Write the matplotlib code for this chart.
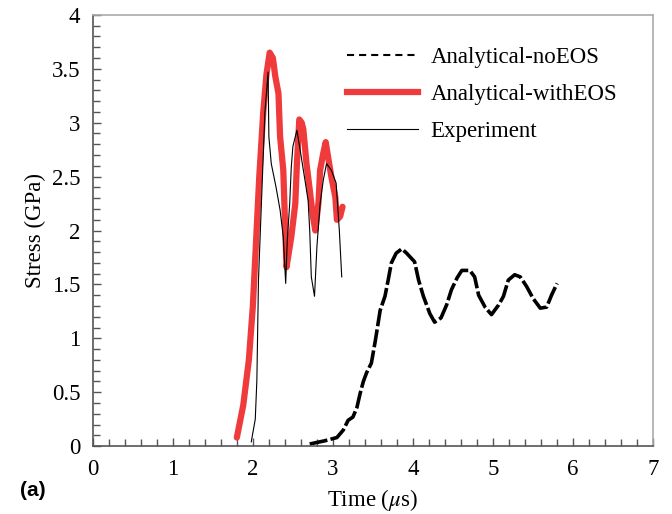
import matplotlib
matplotlib.use("Agg")
import matplotlib.pyplot as plt
from matplotlib.lines import Line2D
from matplotlib.ticker import MultipleLocator, FuncFormatter

# Analytical-noEOS (dashed)
t_noeos = [2.71, 2.90, 3.05, 3.13, 3.19, 3.25, 3.30, 3.34, 3.38, 3.42, 3.48, 3.53,
           3.59, 3.65, 3.69, 3.73, 3.79, 3.86, 3.92, 4.02, 4.07, 4.13, 4.21, 4.27,
           4.35, 4.42, 4.48, 4.55, 4.61, 4.71, 4.77, 4.82, 4.90, 4.98, 5.07, 5.13,
           5.19, 5.27, 5.34, 5.42, 5.50, 5.59, 5.67, 5.73, 5.80]
s_noeos = [0.02, 0.05, 0.08, 0.15, 0.24, 0.27, 0.36, 0.49, 0.60, 0.68, 0.77, 0.98,
           1.26, 1.39, 1.54, 1.70, 1.79, 1.83, 1.79, 1.71, 1.54, 1.39, 1.23, 1.15,
           1.19, 1.31, 1.45, 1.56, 1.63, 1.63, 1.57, 1.40, 1.29, 1.22, 1.31, 1.39,
           1.54, 1.59, 1.57, 1.48, 1.37, 1.28, 1.29, 1.40, 1.51]

# Analytical-withEOS (thick red)
t_eos = [1.80, 1.88, 1.95, 2.00, 2.03, 2.08, 2.13, 2.17, 2.21, 2.25, 2.28, 2.32,
         2.34, 2.38, 2.42, 2.48, 2.53, 2.55, 2.58, 2.61, 2.63, 2.67, 2.71, 2.75,
         2.78, 2.82, 2.84, 2.88, 2.91, 2.94, 2.98, 3.03, 3.05, 3.09, 3.12]
s_eos = [0.08, 0.38, 0.80, 1.30, 1.75, 2.50, 3.10, 3.45, 3.65, 3.60, 3.43, 3.27,
         2.87, 2.56, 1.66, 1.94, 2.25, 2.62, 3.03, 3.00, 2.94, 2.62, 2.38, 2.13,
         2.00, 2.26, 2.56, 2.72, 2.82, 2.68, 2.50, 2.31, 2.10, 2.13, 2.22]

# Experiment (thin black)
t_exp = [1.98, 2.03, 2.05, 2.07, 2.15, 2.19, 2.20, 2.23, 2.29, 2.34, 2.38, 2.41,
         2.43, 2.46, 2.48, 2.50, 2.55, 2.59, 2.65, 2.69, 2.71, 2.73, 2.77, 2.80,
         2.84, 2.88, 2.92, 2.98, 3.04, 3.08, 3.11]
s_exp = [0.04, 0.25, 0.61, 1.54, 3.09, 3.47, 2.87, 2.62, 2.40, 2.19, 1.94, 1.51,
         1.91, 2.25, 2.59, 2.78, 2.93, 2.75, 2.47, 2.28, 2.00, 1.57, 1.39, 1.85,
         2.25, 2.47, 2.62, 2.56, 2.44, 2.00, 1.57]

plt.rcParams["font.family"] = ["Liberation Serif", "DejaVu Serif"]
plt.rcParams["mathtext.fontset"] = "stix"

fig = plt.figure(figsize=(6.72, 5.14), dpi=100)
ax = fig.add_axes([0.138, 0.132, 0.834, 0.839])

red = "#ef3b3b"
ax.plot(t_noeos, s_noeos, color="black", lw=2.6, linestyle=(0, (5, 0.9)))
ax.plot(t_eos, s_eos, color=red, lw=4.5, solid_joinstyle="round",
        solid_capstyle="round")
ax.plot(t_exp, s_exp, color="black", lw=0.8)

ax.set_xlim(0, 7)
ax.set_ylim(0, 4)
ax.xaxis.set_major_locator(MultipleLocator(1))
ax.xaxis.set_minor_locator(MultipleLocator(0.2))
ax.yaxis.set_major_locator(MultipleLocator(0.5))
ax.yaxis.set_minor_locator(MultipleLocator(0.1))
ax.yaxis.set_major_formatter(FuncFormatter(lambda v, p: f"{v:g}"))
ax.tick_params(which="both", direction="in", top=False, right=False,
               labelsize=16.5, color="#555555", width=1.0)
ax.tick_params(which="major", length=6, pad=9)
ax.tick_params(which="minor", length=5)

for side in ["left", "bottom"]:
    ax.spines[side].set_color("#555555")
    ax.spines[side].set_linewidth(1.2)
for side in ["top", "right"]:
    ax.spines[side].set_color("#aaaaaa")
    ax.spines[side].set_linewidth(1.2)

ax.set_xlabel(r"Time ($\mu$s)", fontsize=16.5, labelpad=5)
ax.set_ylabel("Stress (GPa)", fontsize=16.5, labelpad=4)

handles = [
    Line2D([], [], color="black", lw=1.5, linestyle=(0, (3.4, 2.4))),
    Line2D([], [], color=red, lw=4.5),
    Line2D([], [], color="black", lw=0.8),
]
labels = ["Analytical-noEOS", "Analytical-withEOS", "Experiment"]
ax.legend(handles, labels, loc="upper right", bbox_to_anchor=(0.952, 0.946),
          borderaxespad=0, frameon=False, fontsize=16.5, handlelength=3.1,
          handletextpad=0.55, labelspacing=0.68)

fig.text(0.03, 0.035, "(a)", fontsize=15, fontweight="bold",
         family=["Liberation Sans", "DejaVu Sans"])

fig.savefig("out.png", dpi=100)
